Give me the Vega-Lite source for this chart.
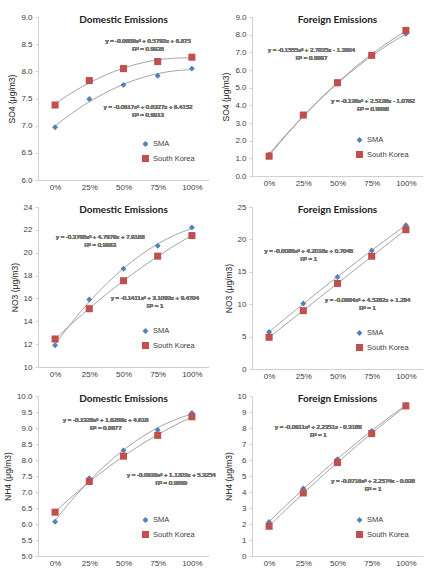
{
  "$schema": "https://vega.github.io/schema/vega-lite/v6.json",
  "background": "white",
  "padding": {"left": 3, "top": 13, "right": 5, "bottom": 5},
  "config": {
    "view": {"stroke": null},
    "font": "Liberation Sans",
    "axis": {"grid": false, "domainColor": "#d0d0d0", "tickColor": "#d0d0d0", "labelColor": "#404040", "labelFontSize": 8, "labelFont": "Liberation Sans", "labelFontWeight": "normal", "labelOverlap": false, "titleFont": "Liberation Sans", "titleFontWeight": "normal", "titleFontSize": 8.5, "titleColor": "#202020", "tickSize": 3, "labelPadding": 3},
    "legend": {"orient": "bottom-right", "offset": 14, "labelFontSize": 7.5, "labelColor": "#404040", "labelFont": "Liberation Sans", "rowPadding": 1, "symbolSize": 30, "labelOffset": 3, "symbolOpacity": 1},
    "title": {"font": "Lato", "fontSize": 10, "fontWeight": "bold", "color": "#202020", "anchor": "middle", "offset": -12}
  },
  "data": {"values": [
    {"panel": "SO4D", "series": "SMA", "pct": 0, "value": 6.97},
    {"panel": "SO4D", "series": "SMA", "pct": 25, "value": 7.49},
    {"panel": "SO4D", "series": "SMA", "pct": 50, "value": 7.75},
    {"panel": "SO4D", "series": "SMA", "pct": 75, "value": 7.92},
    {"panel": "SO4D", "series": "SMA", "pct": 100, "value": 8.05},
    {"panel": "SO4D", "series": "South Korea", "pct": 0, "value": 7.38},
    {"panel": "SO4D", "series": "South Korea", "pct": 25, "value": 7.83},
    {"panel": "SO4D", "series": "South Korea", "pct": 50, "value": 8.05},
    {"panel": "SO4D", "series": "South Korea", "pct": 75, "value": 8.18},
    {"panel": "SO4D", "series": "South Korea", "pct": 100, "value": 8.26},
    {"panel": "SO4F", "series": "SMA", "pct": 0, "value": 1.22},
    {"panel": "SO4F", "series": "SMA", "pct": 25, "value": 3.43},
    {"panel": "SO4F", "series": "SMA", "pct": 50, "value": 5.22},
    {"panel": "SO4F", "series": "SMA", "pct": 75, "value": 6.78},
    {"panel": "SO4F", "series": "SMA", "pct": 100, "value": 8.05},
    {"panel": "SO4F", "series": "South Korea", "pct": 0, "value": 1.12},
    {"panel": "SO4F", "series": "South Korea", "pct": 25, "value": 3.45},
    {"panel": "SO4F", "series": "South Korea", "pct": 50, "value": 5.28},
    {"panel": "SO4F", "series": "South Korea", "pct": 75, "value": 6.83},
    {"panel": "SO4F", "series": "South Korea", "pct": 100, "value": 8.24},
    {"panel": "NO3D", "series": "SMA", "pct": 0, "value": 11.9},
    {"panel": "NO3D", "series": "SMA", "pct": 25, "value": 15.9},
    {"panel": "NO3D", "series": "SMA", "pct": 50, "value": 18.6},
    {"panel": "NO3D", "series": "SMA", "pct": 75, "value": 20.6},
    {"panel": "NO3D", "series": "SMA", "pct": 100, "value": 22.2},
    {"panel": "NO3D", "series": "South Korea", "pct": 0, "value": 12.45},
    {"panel": "NO3D", "series": "South Korea", "pct": 25, "value": 15.1},
    {"panel": "NO3D", "series": "South Korea", "pct": 50, "value": 17.55},
    {"panel": "NO3D", "series": "South Korea", "pct": 75, "value": 19.7},
    {"panel": "NO3D", "series": "South Korea", "pct": 100, "value": 21.5},
    {"panel": "NO3F", "series": "SMA", "pct": 0, "value": 5.7},
    {"panel": "NO3F", "series": "SMA", "pct": 25, "value": 10.1},
    {"panel": "NO3F", "series": "SMA", "pct": 50, "value": 14.2},
    {"panel": "NO3F", "series": "SMA", "pct": 75, "value": 18.3},
    {"panel": "NO3F", "series": "SMA", "pct": 100, "value": 22.2},
    {"panel": "NO3F", "series": "South Korea", "pct": 0, "value": 4.9},
    {"panel": "NO3F", "series": "South Korea", "pct": 25, "value": 9.0},
    {"panel": "NO3F", "series": "South Korea", "pct": 50, "value": 13.2},
    {"panel": "NO3F", "series": "South Korea", "pct": 75, "value": 17.4},
    {"panel": "NO3F", "series": "South Korea", "pct": 100, "value": 21.5},
    {"panel": "NH4D", "series": "SMA", "pct": 0, "value": 6.07},
    {"panel": "NH4D", "series": "SMA", "pct": 25, "value": 7.43},
    {"panel": "NH4D", "series": "SMA", "pct": 50, "value": 8.3},
    {"panel": "NH4D", "series": "SMA", "pct": 75, "value": 8.94},
    {"panel": "NH4D", "series": "SMA", "pct": 100, "value": 9.47},
    {"panel": "NH4D", "series": "South Korea", "pct": 0, "value": 6.37},
    {"panel": "NH4D", "series": "South Korea", "pct": 25, "value": 7.33},
    {"panel": "NH4D", "series": "South Korea", "pct": 50, "value": 8.12},
    {"panel": "NH4D", "series": "South Korea", "pct": 75, "value": 8.77},
    {"panel": "NH4D", "series": "South Korea", "pct": 100, "value": 9.35},
    {"panel": "NH4F", "series": "SMA", "pct": 0, "value": 2.12},
    {"panel": "NH4F", "series": "SMA", "pct": 25, "value": 4.22},
    {"panel": "NH4F", "series": "SMA", "pct": 50, "value": 6.05},
    {"panel": "NH4F", "series": "SMA", "pct": 75, "value": 7.82},
    {"panel": "NH4F", "series": "SMA", "pct": 100, "value": 9.45},
    {"panel": "NH4F", "series": "South Korea", "pct": 0, "value": 1.86},
    {"panel": "NH4F", "series": "South Korea", "pct": 25, "value": 3.94},
    {"panel": "NH4F", "series": "South Korea", "pct": 50, "value": 5.84},
    {"panel": "NH4F", "series": "South Korea", "pct": 75, "value": 7.65},
    {"panel": "NH4F", "series": "South Korea", "pct": 100, "value": 9.38}
  ]},
  "columns": 2,
  "spacing": {"row": 12, "column": 5},
  "resolve": {"scale": {"x": "independent", "y": "independent", "color": "independent", "shape": "independent", "size": "independent"}, "legend": {"color": "independent", "shape": "independent"}},
  "concat": [
    {
      "width": 171, "height": 163,
      "title": "Domestic Emissions",
      "transform": [{"filter": "datum.panel === 'SO4D'"}],
      "layer": [
        {"transform": [{"regression": "value", "on": "pct", "groupby": ["series"], "method": "poly", "order": 2}],
         "mark": {"type": "line", "strokeWidth": 0.8, "color": "#8c8c8c"},
         "encoding": {"x": {"field": "pct", "type": "quantitative", "scale": {"domain": [-12.5, 112.5], "nice": false, "zero": false}, "axis": {"values": [0, 25, 50, 75, 100], "tickCount": 20, "labelExpr": "datum.value + '%'", "title": null, "ticks": false}},
                      "y": {"field": "value", "type": "quantitative", "scale": {"domain": [6, 9], "nice": false, "zero": false}, "axis": {"values": [6, 6.5, 7, 7.5, 8, 8.5, 9], "tickCount": 20, "labelOverlap": false, "format": ".1f", "title": "SO4 (μg/m3)"}},
                      "detail": {"field": "series"}}},
        {"mark": {"type": "point", "filled": true, "opacity": 1},
         "encoding": {"x": {"field": "pct", "type": "quantitative"}, "y": {"field": "value", "type": "quantitative"},
                      "color": {"field": "series", "type": "nominal", "scale": {"domain": ["SMA", "South Korea"], "range": ["#4F81BD", "#C0504D"]}, "legend": {"title": null}},
                      "shape": {"field": "series", "type": "nominal", "scale": {"domain": ["SMA", "South Korea"], "range": ["diamond", "square"]}, "legend": {"title": null}},
                      "size": {"field": "series", "type": "nominal", "scale": {"domain": ["SMA", "South Korea"], "range": [35, 50]}, "legend": null}}},
        {"mark": {"type": "text", "text": ["y = -0.0609x² + 0.5793x + 6.875", "R² = 0.9926"], "font": "Liberation Sans", "fontSize": 6, "fontWeight": "normal", "color": "#787878", "align": "center", "lineHeight": 8}, "encoding": {"x": {"datum": 68}, "y": {"datum": 8.56}}},
        {"mark": {"type": "text", "text": ["y = -0.0617x² + 0.6327x + 6.4152", "R² = 0.9913"], "font": "Liberation Sans", "fontSize": 6, "fontWeight": "normal", "color": "#787878", "align": "center", "lineHeight": 8}, "encoding": {"x": {"datum": 68}, "y": {"datum": 7.34}}}
      ]
    },
    {
      "width": 171, "height": 159,
      "title": "Foreign Emissions",
      "transform": [{"filter": "datum.panel === 'SO4F'"}],
      "layer": [
        {"transform": [{"regression": "value", "on": "pct", "groupby": ["series"], "method": "poly", "order": 2}],
         "mark": {"type": "line", "strokeWidth": 0.8, "color": "#8c8c8c"},
         "encoding": {"x": {"field": "pct", "type": "quantitative", "scale": {"domain": [-12.5, 112.5], "nice": false, "zero": false}, "axis": {"values": [0, 25, 50, 75, 100], "tickCount": 20, "labelExpr": "datum.value + '%'", "title": null, "ticks": false}},
                      "y": {"field": "value", "type": "quantitative", "scale": {"domain": [0, 9], "nice": false}, "axis": {"values": [0, 1, 2, 3, 4, 5, 6, 7, 8, 9], "tickCount": 20, "labelOverlap": false, "format": ".1f", "title": "SO4 (μg/m3)"}},
                      "detail": {"field": "series"}}},
        {"mark": {"type": "point", "filled": true, "opacity": 1},
         "encoding": {"x": {"field": "pct", "type": "quantitative"}, "y": {"field": "value", "type": "quantitative"},
                      "color": {"field": "series", "type": "nominal", "scale": {"domain": ["SMA", "South Korea"], "range": ["#4F81BD", "#C0504D"]}, "legend": {"title": null}},
                      "shape": {"field": "series", "type": "nominal", "scale": {"domain": ["SMA", "South Korea"], "range": ["diamond", "square"]}, "legend": {"title": null}},
                      "size": {"field": "series", "type": "nominal", "scale": {"domain": ["SMA", "South Korea"], "range": [35, 50]}, "legend": null}}},
        {"mark": {"type": "text", "text": ["y = -0.1555x² + 2.7035x - 1.3904", "R² = 0.9997"], "font": "Liberation Sans", "fontSize": 6, "fontWeight": "normal", "color": "#787878", "align": "center", "lineHeight": 8}, "encoding": {"x": {"datum": 31}, "y": {"datum": 7.13}}},
        {"mark": {"type": "text", "text": ["y = -0.138x² + 2.5138x - 1.0782", "R² = 0.9998"], "font": "Liberation Sans", "fontSize": 6, "fontWeight": "normal", "color": "#787878", "align": "center", "lineHeight": 8}, "encoding": {"x": {"datum": 76}, "y": {"datum": 4.25}}}
      ]
    },
    {
      "width": 171, "height": 160,
      "title": "Domestic Emissions",
      "transform": [{"filter": "datum.panel === 'NO3D'"}],
      "layer": [
        {"transform": [{"regression": "value", "on": "pct", "groupby": ["series"], "method": "poly", "order": 2}],
         "mark": {"type": "line", "strokeWidth": 0.8, "color": "#8c8c8c"},
         "encoding": {"x": {"field": "pct", "type": "quantitative", "scale": {"domain": [-12.5, 112.5], "nice": false, "zero": false}, "axis": {"values": [0, 25, 50, 75, 100], "tickCount": 20, "labelExpr": "datum.value + '%'", "title": null, "ticks": false}},
                      "y": {"field": "value", "type": "quantitative", "scale": {"domain": [10, 24], "nice": false, "zero": false}, "axis": {"values": [10, 12, 14, 16, 18, 20, 22, 24], "tickCount": 20, "labelOverlap": false, "format": "d", "title": "NO3 (μg/m3)"}},
                      "detail": {"field": "series"}}},
        {"mark": {"type": "point", "filled": true, "opacity": 1},
         "encoding": {"x": {"field": "pct", "type": "quantitative"}, "y": {"field": "value", "type": "quantitative"},
                      "color": {"field": "series", "type": "nominal", "scale": {"domain": ["SMA", "South Korea"], "range": ["#4F81BD", "#C0504D"]}, "legend": {"title": null}},
                      "shape": {"field": "series", "type": "nominal", "scale": {"domain": ["SMA", "South Korea"], "range": ["diamond", "square"]}, "legend": {"title": null}},
                      "size": {"field": "series", "type": "nominal", "scale": {"domain": ["SMA", "South Korea"], "range": [35, 50]}, "legend": null}}},
        {"mark": {"type": "text", "text": ["y = -0.3768x² + 4.7978x + 7.6168", "R² = 0.9963"], "font": "Liberation Sans", "fontSize": 6, "fontWeight": "normal", "color": "#787878", "align": "center", "lineHeight": 8}, "encoding": {"x": {"datum": 33}, "y": {"datum": 21.4}}},
        {"mark": {"type": "text", "text": ["y = -0.1411x² + 3.1093x + 9.4704", "R² = 1"], "font": "Liberation Sans", "fontSize": 6, "fontWeight": "normal", "color": "#787878", "align": "center", "lineHeight": 8}, "encoding": {"x": {"datum": 73}, "y": {"datum": 16.0}}}
      ]
    },
    {
      "width": 171, "height": 162,
      "title": "Foreign Emissions",
      "transform": [{"filter": "datum.panel === 'NO3F'"}],
      "layer": [
        {"transform": [{"regression": "value", "on": "pct", "groupby": ["series"], "method": "poly", "order": 2}],
         "mark": {"type": "line", "strokeWidth": 0.8, "color": "#8c8c8c"},
         "encoding": {"x": {"field": "pct", "type": "quantitative", "scale": {"domain": [-12.5, 112.5], "nice": false, "zero": false}, "axis": {"values": [0, 25, 50, 75, 100], "tickCount": 20, "labelExpr": "datum.value + '%'", "title": null, "ticks": false}},
                      "y": {"field": "value", "type": "quantitative", "scale": {"domain": [0, 25], "nice": false}, "axis": {"values": [0, 5, 10, 15, 20, 25], "tickCount": 20, "labelOverlap": false, "format": "d", "title": "NO3 (μg/m3)"}},
                      "detail": {"field": "series"}}},
        {"mark": {"type": "point", "filled": true, "opacity": 1},
         "encoding": {"x": {"field": "pct", "type": "quantitative"}, "y": {"field": "value", "type": "quantitative"},
                      "color": {"field": "series", "type": "nominal", "scale": {"domain": ["SMA", "South Korea"], "range": ["#4F81BD", "#C0504D"]}, "legend": {"title": null}},
                      "shape": {"field": "series", "type": "nominal", "scale": {"domain": ["SMA", "South Korea"], "range": ["diamond", "square"]}, "legend": {"title": null}},
                      "size": {"field": "series", "type": "nominal", "scale": {"domain": ["SMA", "South Korea"], "range": [35, 50]}, "legend": null}}},
        {"mark": {"type": "text", "text": ["y = -0.0066x² + 4.2018x + 0.7046", "R² = 1"], "font": "Liberation Sans", "fontSize": 6, "fontWeight": "normal", "color": "#787878", "align": "center", "lineHeight": 8}, "encoding": {"x": {"datum": 29}, "y": {"datum": 18.2}}},
        {"mark": {"type": "text", "text": ["y = -0.0684x² + 4.5282x + 1.294", "R² = 1"], "font": "Liberation Sans", "fontSize": 6, "fontWeight": "normal", "color": "#787878", "align": "center", "lineHeight": 8}, "encoding": {"x": {"datum": 72}, "y": {"datum": 10.6}}}
      ]
    },
    {
      "width": 171, "height": 160,
      "title": "Domestic Emissions",
      "transform": [{"filter": "datum.panel === 'NH4D'"}],
      "layer": [
        {"transform": [{"regression": "value", "on": "pct", "groupby": ["series"], "method": "poly", "order": 2}],
         "mark": {"type": "line", "strokeWidth": 0.8, "color": "#8c8c8c"},
         "encoding": {"x": {"field": "pct", "type": "quantitative", "scale": {"domain": [-12.5, 112.5], "nice": false, "zero": false}, "axis": {"values": [0, 25, 50, 75, 100], "tickCount": 20, "labelExpr": "datum.value + '%'", "title": null, "ticks": false}},
                      "y": {"field": "value", "type": "quantitative", "scale": {"domain": [5, 10], "nice": false, "zero": false}, "axis": {"values": [5, 5.5, 6, 6.5, 7, 7.5, 8, 8.5, 9, 9.5, 10], "tickCount": 20, "labelOverlap": false, "format": ".1f", "title": "NH4 (μg/m3)"}},
                      "detail": {"field": "series"}}},
        {"mark": {"type": "point", "filled": true, "opacity": 1},
         "encoding": {"x": {"field": "pct", "type": "quantitative"}, "y": {"field": "value", "type": "quantitative"},
                      "color": {"field": "series", "type": "nominal", "scale": {"domain": ["SMA", "South Korea"], "range": ["#4F81BD", "#C0504D"]}, "legend": {"title": null}},
                      "shape": {"field": "series", "type": "nominal", "scale": {"domain": ["SMA", "South Korea"], "range": ["diamond", "square"]}, "legend": {"title": null}},
                      "size": {"field": "series", "type": "nominal", "scale": {"domain": ["SMA", "South Korea"], "range": [35, 50]}, "legend": null}}},
        {"mark": {"type": "text", "text": ["y = -0.1328x² + 1.6288x + 4.618", "R² = 0.9977"], "font": "Liberation Sans", "fontSize": 6, "fontWeight": "normal", "color": "#787878", "align": "center", "lineHeight": 8}, "encoding": {"x": {"datum": 37}, "y": {"datum": 9.25}}},
        {"mark": {"type": "text", "text": ["y = -0.0639x² + 1.1203x + 5.3254", "R² = 0.9999"], "font": "Liberation Sans", "fontSize": 6, "fontWeight": "normal", "color": "#787878", "align": "center", "lineHeight": 8}, "encoding": {"x": {"datum": 85}, "y": {"datum": 7.53}}}
      ]
    },
    {
      "width": 171, "height": 160,
      "title": "Foreign Emissions",
      "transform": [{"filter": "datum.panel === 'NH4F'"}],
      "layer": [
        {"transform": [{"regression": "value", "on": "pct", "groupby": ["series"], "method": "poly", "order": 2}],
         "mark": {"type": "line", "strokeWidth": 0.8, "color": "#8c8c8c"},
         "encoding": {"x": {"field": "pct", "type": "quantitative", "scale": {"domain": [-12.5, 112.5], "nice": false, "zero": false}, "axis": {"values": [0, 25, 50, 75, 100], "tickCount": 20, "labelExpr": "datum.value + '%'", "title": null, "ticks": false}},
                      "y": {"field": "value", "type": "quantitative", "scale": {"domain": [0, 10], "nice": false}, "axis": {"values": [0, 1, 2, 3, 4, 5, 6, 7, 8, 9, 10], "tickCount": 20, "labelOverlap": false, "format": "d", "title": "NH4 (μg/m3)"}},
                      "detail": {"field": "series"}}},
        {"mark": {"type": "point", "filled": true, "opacity": 1},
         "encoding": {"x": {"field": "pct", "type": "quantitative"}, "y": {"field": "value", "type": "quantitative"},
                      "color": {"field": "series", "type": "nominal", "scale": {"domain": ["SMA", "South Korea"], "range": ["#4F81BD", "#C0504D"]}, "legend": {"title": null}},
                      "shape": {"field": "series", "type": "nominal", "scale": {"domain": ["SMA", "South Korea"], "range": ["diamond", "square"]}, "legend": {"title": null}},
                      "size": {"field": "series", "type": "nominal", "scale": {"domain": ["SMA", "South Korea"], "range": [35, 50]}, "legend": null}}},
        {"mark": {"type": "text", "text": ["y = -0.0611x² + 2.2351x - 0.3188", "R² = 1"], "font": "Liberation Sans", "fontSize": 6, "fontWeight": "normal", "color": "#787878", "align": "center", "lineHeight": 8}, "encoding": {"x": {"datum": 36}, "y": {"datum": 8.06}}},
        {"mark": {"type": "text", "text": ["y = -0.0716x² + 2.2574x - 0.028", "R² = 1"], "font": "Liberation Sans", "fontSize": 6, "fontWeight": "normal", "color": "#787878", "align": "center", "lineHeight": 8}, "encoding": {"x": {"datum": 76}, "y": {"datum": 4.69}}}
      ]
    }
  ]
}
